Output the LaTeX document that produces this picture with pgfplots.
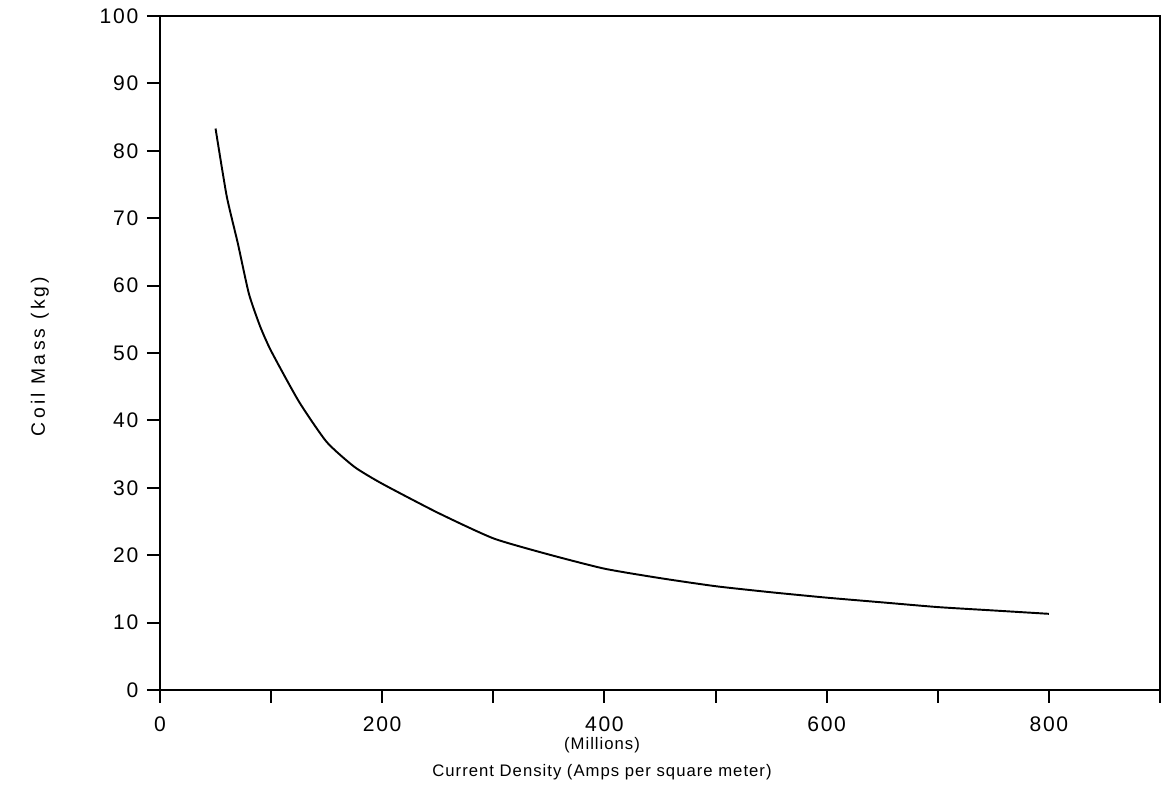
\documentclass[border=0pt]{standalone}
\usepackage{fontspec}
\setmainfont{Liberation Sans}[LetterSpace=6]
\usepackage{pgfplots}
\pgfplotsset{compat=1.18}

\pgfplotstableread{
x    y
50   83.3
60   73.3
70   66.3
80   58.8
90   54.0
100  50.3
125  42.8
150  36.8
175  33.1
200  30.6
250  26.3
300  22.5
350  20.1
400  18.0
450  16.6
500  15.4
550  14.5
600  13.7
650  13.0
700  12.3
750  11.8
800  11.3
}\coilmass

\begin{document}
\begin{tikzpicture}
\begin{axis}[
  scale only axis,
  width=20cm, height=13.48cm,
  xmin=0, xmax=900, ymin=0, ymax=100,
  xtick={0,100,...,900},
  xticklabels={0,,200,,400,,600,,800,},
  ytick={0,10,...,100},
  tick align=outside,
  tick pos=left,
  major tick length=0.26cm,
  axis line style={line width=1.2pt},
  every tick/.style={line width=1.1pt, black},
  /pgf/number format/assume math mode=true,
  tick label style={font=\fontsize{12}{14}\selectfont\addfontfeature{LetterSpace=8}},
  xticklabel style={yshift=-0.15cm},
  yticklabel style={xshift=-0.05cm},
  xlabel={(Millions)\\Current Density (Amps per square meter)},
  xlabel style={align=center, font=\fontsize{9.5}{15.5}\selectfont,
    at={(rel axis cs:0.442,0)}, anchor=north, yshift=-0.82cm},
  ylabel={Coil Mass (kg)},
  ylabel style={font=\fontsize{11}{12}\selectfont\addfontfeature{LetterSpace=17},
    at={(rel axis cs:0,0.495)}, anchor=center, yshift=2.4cm},
]
\addplot[black, line width=1.1pt, no marks, smooth, tension=0.35] table[x=x, y=y] {\coilmass};
\end{axis}
\pgfresetboundingbox
\path[use as bounding box] (current axis.south west) ++(-3.2cm,-2.06cm) rectangle ([shift={(0.1cm,0.32cm)}]current axis.north east);
\end{tikzpicture}
\end{document}
